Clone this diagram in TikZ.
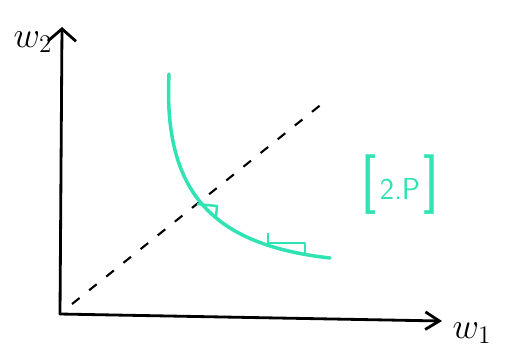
\documentclass[tikz,border=0pt]{standalone}
\usepackage{tikz}
\usetikzlibrary{arrows.meta,positioning}
\usepackage{xcolor}
\definecolor{mint}{HTML}{2FE3B2}

\begin{document}
\begin{tikzpicture}[x=0.02cm,y=-0.02cm,
    axis/.style={line width=1.6pt, black, line cap=round},
    ray/.style={line width=1.2pt, black, dash pattern=on 5.5pt off 7pt},
    isocurve/.style={line width=2pt, mint, line cap=round},
    marker/.style={line width=1.4pt, mint, line join=round},
    lbl/.style={font=\huge, inner sep=0pt}
  ]
  \useasboundingbox (0,0) rectangle (517,360);

  % axes
  \coordinate (O) at (60,314);
  \coordinate (Y) at (62,27);
  \coordinate (X) at (442,321);
  \draw[axis, -{Straight Barb[length=7pt, width=16pt, line width=1.6pt]}] (O) -- (Y);
  \draw[axis, -{Straight Barb[length=8pt, width=10pt, line width=1.6pt]}] (O) -- (X);
  \node[lbl] (w2) at (33,42) {$w_2$};
  \node[lbl] (w1) at (472,333) {$w_1$};

  % ray through the origin
  \coordinate (R0) at (72,304);
  \coordinate (R1) at (328,99);
  \draw[ray] (R0) -- (R1);

  % curve with marks
  \coordinate (C0) at (169,74);
  \coordinate (C1) at (330,258);
  \draw[isocurve] (C0) .. controls (163,195) and (215,245) .. (C1);
  \draw[marker] (197,204) -- (217,206) -- (216,217);
  \draw[marker] (268,233) -- (268,243) -- (305,243) -- (305,253);

  \node[lbl, text=mint, font=\sffamily] (tag) at (400,185)
    {{\fontsize{34}{34}\selectfont[}\,{\LARGE 2.P}\,{\fontsize{34}{34}\selectfont]}};
\end{tikzpicture}
\end{document}
